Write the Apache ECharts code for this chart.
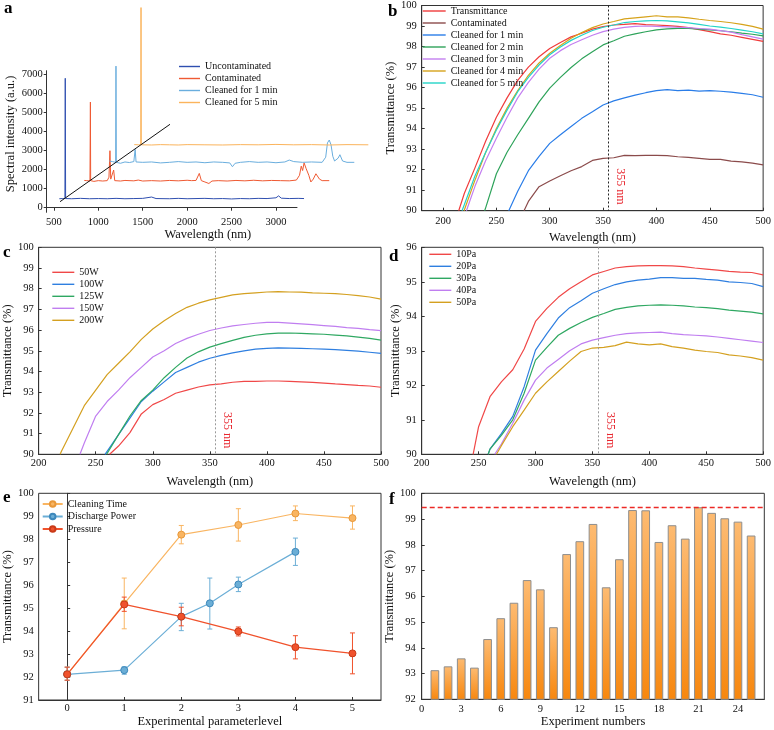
<!DOCTYPE html>
<html>
<head>
<meta charset="utf-8">
<script src="https://cdn.jsdelivr.net/npm/echarts@6.0.0/dist/echarts.min.js"></script>
<style>
  html, body { margin: 0; padding: 0; background: #fff; }
  #chart { width: 774px; height: 730px; }
</style>
</head>
<body>
<div id="chart"></div>
<script>
// ---- panel a: waterfall spectra [wavelength, intensity] ----
const aUncontaminated = [[561,470],[600,480],[624,480],[628,6790],[632,480],[700,470],[800,490],[900,470],[1000,480],[1100,470],[1200,490],[1300,470],[1400,480],[1500,490],[1600,560],[1650,480],[1800,470],[1900,490],[2000,470],[2100,480],[2200,490],[2300,470],[2400,480],[2500,460],[2600,480],[2700,470],[2800,490],[2900,480],[3000,520],[3030,620],[3060,500],[3150,480],[3250,490],[3316,480]];
const aContaminated = [[842,1430],[870,1420],[906,1400],[909,1420],[911,5545],[914,1420],[950,1380],[1000,1420],[1050,1400],[1100,1420],[1120,1600],[1131,2990],[1140,1500],[1155,1420],[1173,1978],[1185,1420],[1250,1400],[1300,1430],[1400,1410],[1450,1450],[1500,1400],[1600,1420],[1700,1400],[1800,1430],[1900,1410],[2000,1440],[2050,1420],[2100,1430],[2137,1800],[2160,1420],[2200,1350],[2245,1270],[2280,1400],[2350,1420],[2450,1400],[2550,1430],[2650,1410],[2750,1440],[2850,1410],[2950,1430],[3050,1420],[3150,1410],[3230,1450],[3265,1700],[3285,2180],[3300,1950],[3317,2350],[3340,2050],[3370,1700],[3393,1350],[3420,1500],[3450,1780],[3467,1820],[3490,1500],[3520,1420],[3600,1420]];
const aCleaned1 = [[1124,2450],[1140,2350],[1160,2420],[1195,2380],[1199,7430],[1203,2380],[1250,2330],[1300,2400],[1350,2370],[1400,2420],[1415,3060],[1425,2400],[1500,2380],[1600,2400],[1700,2350],[1800,2380],[1900,2420],[2000,2380],[2100,2400],[2200,2360],[2300,2400],[2400,2380],[2480,2350],[2510,2150],[2540,2330],[2600,2380],[2700,2420],[2800,2380],[2900,2400],[3000,2360],[3100,2400],[3150,2500],[3200,2420],[3300,2380],[3400,2400],[3520,2380],[3560,2650],[3580,3400],[3600,3550],[3620,3300],[3640,2700],[3660,2450],[3700,2600],[3720,2780],[3750,2450],[3800,2380],[3882,2380]];
const aCleaned5 = [[1405,3310],[1450,3300],[1478,3300],[1481,10500],[1484,3300],[1600,3290],[1700,3310],[1800,3300],[1900,3290],[2000,3310],[2200,3300],[2400,3290],[2600,3310],[2800,3300],[3000,3320],[3200,3300],[3400,3310],[3600,3290],[3800,3310],[4040,3300]];
const aGuide = [[569,315],[1807,4376]];

// ---- panel b ----
const wlB = [220,230,240,250,260,270,280,290,300,310,320,330,340,350,360,370,380,390,400,410,420,430,440,450,460,470,480,490,500];
const bStart = [214.7, 275.9, 261.6, 239, 221.9, 219.7, 217.8];
const bTransmittance = [90.85,92.1,93.4,94.55,95.5,96.35,97.0,97.5,97.9,98.2,98.47,98.65,98.85,98.97,99.05,99.08,99.12,99.07,99.05,99.02,98.98,98.92,98.82,98.73,98.62,98.55,98.45,98.35,98.25];
const bContaminated = [null,null,null,null,null,null,90.45,91.17,91.45,91.7,91.95,92.15,92.45,92.55,92.58,92.7,92.68,92.7,92.7,92.68,92.63,92.6,92.55,92.5,92.5,92.42,92.38,92.32,92.23];
const bClean1 = [null,null,null,null,null,90.95,91.95,92.65,93.28,93.7,94.1,94.5,94.82,95.15,95.35,95.5,95.63,95.75,95.85,95.9,95.85,95.88,95.83,95.85,95.82,95.78,95.72,95.65,95.53];
const bClean2 = [null,null,90.15,91.8,92.85,93.7,94.5,95.3,95.97,96.5,96.98,97.4,97.75,98.08,98.28,98.5,98.62,98.72,98.81,98.86,98.89,98.88,98.85,98.81,98.77,98.72,98.65,98.6,98.52];
const bClean3 = [null,91.2,92.45,93.53,94.55,95.5,96.25,96.9,97.43,97.8,98.1,98.33,98.55,98.73,98.85,98.93,98.98,99.0,98.98,98.96,98.94,98.92,98.88,98.85,98.78,98.7,98.58,98.47,98.36];
const bClean4 = [90.05,91.5,92.85,94.0,95.0,95.85,96.6,97.2,97.67,98.05,98.4,98.68,98.92,99.1,99.22,99.35,99.4,99.45,99.5,99.45,99.45,99.4,99.33,99.27,99.22,99.16,99.08,98.98,98.85];
const bClean5 = [90.3,91.7,92.85,93.93,94.9,95.8,96.5,97.1,97.6,97.98,98.3,98.55,98.78,98.94,99.05,99.17,99.22,99.25,99.27,99.25,99.2,99.15,99.08,99.0,98.95,98.88,98.8,98.72,98.62];

// ---- panel c ----
const wlC = [220,230,240,250,260,270,280,290,300,310,320,330,340,350,360,370,380,390,400,410,420,430,440,450,460,470,480,490,500];
const cStart = [262.2, 258.2, 259.6, 236.2, 218.8];
const c50W = [null,null,null,null,null,90.4,91.05,91.95,92.4,92.65,92.95,93.1,93.25,93.35,93.4,93.48,93.52,93.52,93.54,93.54,93.52,93.5,93.47,93.44,93.4,93.37,93.33,93.3,93.24];
const c100W = [null,null,null,null,null,90.95,91.75,92.55,93.05,93.5,93.95,94.2,94.45,94.64,94.78,94.9,95.0,95.08,95.12,95.14,95.13,95.12,95.1,95.08,95.06,95.02,94.98,94.93,94.88];
const c125W = [null,null,null,null,null,90.95,91.85,92.6,93.1,93.7,94.2,94.65,94.95,95.18,95.35,95.5,95.65,95.75,95.82,95.85,95.86,95.84,95.82,95.8,95.76,95.72,95.66,95.6,95.52];
const c150W = [null,null,90.55,91.85,92.55,93.1,93.7,94.2,94.7,95.0,95.35,95.6,95.8,95.98,96.1,96.2,96.27,96.33,96.37,96.37,96.34,96.3,96.26,96.22,96.18,96.12,96.08,96.02,95.97];
const c200W = [90.15,91.25,92.35,93.1,93.85,94.4,94.95,95.55,96.05,96.45,96.8,97.1,97.3,97.46,97.58,97.7,97.76,97.8,97.84,97.86,97.84,97.83,97.8,97.78,97.76,97.72,97.67,97.6,97.5];

// ---- panel d ----
const wlD = [250,260,270,280,290,300,310,320,330,340,350,360,370,380,390,400,410,420,430,440,450,460,470,480,490,500];
const dStart = [245.2, 258.4, 258.4, 264.2, 265.7];
const d10Pa = [90.8,91.67,92.1,92.45,93.05,93.85,94.23,94.55,94.8,95.0,95.2,95.3,95.4,95.44,95.46,95.47,95.47,95.46,95.44,95.4,95.37,95.34,95.3,95.28,95.27,95.2];
const d20Pa = [null,90.15,90.6,91.1,91.96,93.02,93.5,93.95,94.25,94.45,94.67,94.8,94.92,95.0,95.05,95.08,95.12,95.12,95.1,95.1,95.07,95.05,95.0,94.98,94.95,94.86];
const d30Pa = [null,90.15,90.55,91.0,91.77,92.73,93.1,93.45,93.65,93.82,93.97,94.08,94.2,94.26,94.3,94.32,94.33,94.32,94.3,94.27,94.25,94.22,94.18,94.15,94.12,94.07];
const d40Pa = [null,null,90.3,90.9,91.57,92.15,92.5,92.75,93.0,93.2,93.31,93.38,93.45,93.5,93.52,93.53,93.54,93.5,93.47,93.45,93.43,93.4,93.36,93.32,93.28,93.24];
const d50Pa = [null,null,90.25,90.8,91.28,91.77,92.1,92.4,92.7,92.98,93.08,93.1,93.15,93.25,93.2,93.17,93.2,93.12,93.08,93.02,92.98,92.95,92.88,92.85,92.8,92.73];

// ---- panel e ----
const ctX = [0,1,2,3,4,5];
const ctY = [92.12,95.2,98.2,98.62,99.12,98.92];
const ctLo = [91.86,94.1,97.8,97.92,98.81,98.44];
const ctHi = [92.43,96.31,98.6,99.33,99.45,99.45];
const dpX = [0,1,2,2.5,3,4];
const dpY = [92.12,92.3,94.63,95.21,96.03,97.45];
const dpLo = [91.86,92.12,94.02,94.09,95.72,96.86];
const dpHi = [92.43,92.45,95.21,96.31,96.35,98.05];
const prX = [0,1,2,3,4,5];
const prY = [92.12,95.16,94.63,93.99,93.3,93.03];
const prLo = [91.86,94.86,94.23,93.79,92.79,92.14];
const prHi = [92.43,95.48,95.04,94.18,93.8,93.92];

// ---- panel f ----
const expNo = [1,2,3,4,5,6,7,8,9,10,11,12,13,14,15,16,17,18,19,20,21,22,23,24,25];
const expT = [93.13,93.28,93.59,93.23,94.34,95.15,95.75,96.63,96.27,94.8,97.64,98.14,98.81,96.35,97.44,99.35,99.34,98.11,98.76,98.24,99.46,99.24,99.03,98.9,98.36];
const bestT = 99.45;

// tick labels
const aXTicks = [500,1000,1500,2000,2500,3000];
const aYTicks = [0,1000,2000,3000,4000,5000,6000,7000];
const wlTicksB = [200,250,300,350,400,450,500];
const eXTicks = [0,1,2,3,4,5];
const fXTicks = [0,3,6,9,12,15,18,21,24];

const FONT = "'Liberation Serif', 'Times New Roman', serif";
const AX = '#333';

function curve(grid, start, vals) {
  const out = [[start, 90]];
  grid.forEach((x, i) => { if (vals[i] != null && x > start) out.push([x, vals[i]]); });
  return out;
}
function zip(xs, ys) { return xs.map((x, i) => [x, ys[i]]); }
const plain = v => String(v);

function xAx(gi, o) {
  return Object.assign({
    type: 'value', gridIndex: gi, nameLocation: 'middle',
    nameTextStyle: { fontFamily: FONT, fontSize: 12.5, color: '#111' },
    axisLine: { show: true, lineStyle: { color: AX, width: 1 } },
    axisTick: { show: true, inside: true, length: 3, lineStyle: { color: AX } },
    axisLabel: { fontFamily: FONT, fontSize: 10.5, color: '#111', margin: 4, formatter: plain },
    splitLine: { show: false }
  }, o);
}
function yAx(gi, o) {
  return Object.assign({
    type: 'value', gridIndex: gi, nameLocation: 'middle', nameRotate: 90,
    nameTextStyle: { fontFamily: FONT, fontSize: 12.5, color: '#111' },
    axisLine: { show: true, lineStyle: { color: AX, width: 1 } },
    axisTick: { show: true, inside: true, length: 3, lineStyle: { color: AX } },
    axisLabel: { fontFamily: FONT, fontSize: 10.5, color: '#111', margin: 5, formatter: plain },
    splitLine: { show: false }
  }, o);
}
function lineS(name, xi, color, data, z) {
  return { name: name, type: 'line', xAxisIndex: xi, yAxisIndex: xi, data: data,
    symbol: 'none', lineStyle: { color: color, width: 1.2 }, itemStyle: { color: color },
    z: z || 2, animation: false };
}
function errS(xi, color, xs, lo, hi) {
  return {
    type: 'custom', xAxisIndex: xi, yAxisIndex: xi, z: 3,
    data: xs.map((x, i) => [x, lo[i], hi[i]]),
    renderItem: function (params, api) {
      const a = api.coord([api.value(0), api.value(1)]);
      const b = api.coord([api.value(0), api.value(2)]);
      const w = 2.5, st = { stroke: color, lineWidth: 1 };
      return { type: 'group', children: [
        { type: 'line', shape: { x1: a[0], y1: a[1], x2: b[0], y2: b[1] }, style: st },
        { type: 'line', shape: { x1: a[0] - w, y1: a[1], x2: a[0] + w, y2: a[1] }, style: st },
        { type: 'line', shape: { x1: b[0] - w, y1: b[1], x2: b[0] + w, y2: b[1] }, style: st }
      ] };
    }
  };
}
function legendAt(left, top, names, w, withSymbol) {
  const lg = {
    left: left, top: top, orient: 'vertical', data: names, selectedMode: false,
    itemWidth: w, itemHeight: withSymbol ? 7 : 1.4, itemGap: withSymbol ? 0.5 : 0, padding: 0,
    formatter: n => n.split('|')[0],
    textStyle: { fontFamily: FONT, fontSize: 10, color: '#111', lineHeight: 12 }
  };
  if (!withSymbol) lg.icon = 'rect';
  return lg;
}
function marker355(color, dash, top, bottom) {
  return {
    silent: true, symbol: 'none', animation: false,
    lineStyle: { color: color, type: dash, width: 1 },
    label: { show: true, formatter: '355 nm', position: 'insideEndTop', distance: 6,
      color: '#e8262e', fontFamily: FONT, fontSize: 12 },
    data: [[{ coord: [355, top] }, { coord: [355, bottom] }]]
  };
}

const chart = echarts.init(document.getElementById('chart'), null, { renderer: 'canvas' });

const bNames = ['Transmittance|b', 'Contaminated|b', 'Cleaned for 1 min|b', 'Cleaned for 2 min|b', 'Cleaned for 3 min|b', 'Cleaned for 4 min|b', 'Cleaned for 5 min|b'];
const bColors = ['#f03c3c', '#8b4b4b', '#2a7de8', '#2ea35a', '#c37ff0', '#d6a21a', '#23d4c8'];
const bVals = [bTransmittance, bContaminated, bClean1, bClean2, bClean3, bClean4, bClean5];
const cNames = ['50W', '100W', '125W', '150W', '200W'];
const dNames = ['10Pa', '20Pa', '30Pa', '40Pa', '50Pa'];
const cdColors = ['#f04848', '#2f7fe0', '#2fa862', '#c07ef0', '#d4a020'];
const cVals = [c50W, c100W, c125W, c150W, c200W];
const dVals = [d10Pa, d20Pa, d30Pa, d40Pa, d50Pa];

// panel a: visible axes live on grid 0; the spectra sit on grid 6, which has the same
// scale but runs further right so the offset traces can pass the end of the axis
const A_MIN = 419, A_PX = 2818 / 250.3, A_W = 330;
const series = [];
[['Uncontaminated', '#2f4fb0', aUncontaminated], ['Contaminated', '#ef5a33', aContaminated],
 ['Cleaned for 1 min', '#6aaede', aCleaned1], ['Cleaned for 5 min', '#fbb45c', aCleaned5]].forEach(s => {
  const o = lineS(s[0], 6, s[1], s[2]); o.clip = false; o.lineStyle.width = 1; series.push(o);
});
series.push({ type: 'line', xAxisIndex: 6, yAxisIndex: 6, data: aGuide, symbol: 'none', clip: false,
  lineStyle: { color: '#111', width: 1 }, silent: true, animation: false });
// b
bNames.forEach((n, i) => {
  const o = lineS(n, 1, bColors[i], curve(wlB, bStart[i], bVals[i]));
  if (i === 0) o.markLine = marker355('#222', [2, 2], 100, 90);
  series.push(o);
});
// c
cNames.forEach((n, i) => {
  const o = lineS(n, 2, cdColors[i], curve(wlC, cStart[i], cVals[i]));
  if (i === 0) o.markLine = marker355('#999', [2, 2], 100, 90);
  series.push(o);
});
// d
dNames.forEach((n, i) => {
  const o = lineS(n, 3, cdColors[i], curve(wlD, dStart[i], dVals[i]));
  if (i === 0) o.markLine = marker355('#999', [2, 2], 96, 90);
  series.push(o);
});
// e
[['Cleaning Time', '#f9b562', '#e8983a', ctX, ctY, ctLo, ctHi],
 ['Discharge Power', '#6baed6', '#3d88bb', dpX, dpY, dpLo, dpHi],
 ['Pressure', '#f0522c', '#c93a18', prX, prY, prLo, prHi]].forEach((s, k) => {
  series.push(errS(4, s[1], s[3], s[5], s[6]));
  series.push({ name: s[0], type: 'line', xAxisIndex: 4, yAxisIndex: 4, data: zip(s[3], s[4]),
    symbol: 'circle', symbolSize: 7, z: 4 + k, animation: false,
    lineStyle: { color: s[1], width: 1.2 },
    itemStyle: { color: s[1], borderColor: s[2], borderWidth: 1 } });
});
// f
series.push({
  type: 'bar', xAxisIndex: 5, yAxisIndex: 5, data: zip(expNo, expT), barWidth: 8.7, animation: false,
  itemStyle: {
    color: new echarts.graphic.LinearGradient(0, 0, 0, 1, [
      { offset: 0, color: '#fdbb72' }, { offset: 1, color: '#f7870e' }]),
    borderColor: '#8e8e8e', borderWidth: 1
  }
});
series.push({ type: 'line', xAxisIndex: 5, yAxisIndex: 5, data: [[0, bestT], [26, bestT]],
  symbol: 'none', silent: true, z: 5, animation: false,
  lineStyle: { color: '#ec2a26', type: [5, 3], width: 1.5 } });

const letterStyle = { fontFamily: FONT, fontSize: 17, fontWeight: 'bold', color: '#000' };
const option = {
  backgroundColor: '#fff',
  animation: false,
  title: [['a', 4, 0], ['b', 388, 3], ['c', 3, 244], ['d', 389, 248], ['e', 3, 489], ['f', 389, 491]]
    .map(t => ({ text: t[0], left: t[1], top: t[2], padding: 0, textStyle: letterStyle })),
  legend: [
    legendAt(179, 60.5, ['Uncontaminated', 'Contaminated', 'Cleaned for 1 min', 'Cleaned for 5 min'], 21),
    legendAt(422.7, 5, bNames, 23),
    legendAt(52.3, 266.3, cNames, 22),
    legendAt(429.3, 248.3, dNames, 22),
    legendAt(41.7, 498, ['Cleaning Time', 'Discharge Power', 'Pressure'], 20, true)
  ],
  grid: [
    { left: 46.7, top: 70.7, width: 250.3, height: 141.6 },
    { left: 421.7, top: 5, width: 342.6, height: 205.7, show: true, borderColor: AX, borderWidth: 1 },
    { left: 35.7, top: 247.3, width: 345.3, height: 207, show: true, borderColor: AX, borderWidth: 1 },
    { left: 421.7, top: 247.3, width: 342.6, height: 207, show: true, borderColor: AX, borderWidth: 1 },
    { left: 35.7, top: 493.3, width: 345.3, height: 206.7, show: true, borderColor: AX, borderWidth: 1 },
    { left: 421.7, top: 493.3, width: 342.6, height: 206, show: true, borderColor: AX, borderWidth: 1 },
    { left: 46.7, top: 70.7, width: A_W, height: 141.6 }
  ],
  xAxis: [
    xAx(0, { min: A_MIN, max: A_MIN + 250.3 * A_PX, name: 'Wavelength (nm)', nameGap: 15,
      nameTextStyle: { fontFamily: FONT, fontSize: 12.5, color: '#111', padding: [0, 0, 0, 72] },
      axisTick: { inside: false, length: 3, lineStyle: { color: AX }, customValues: aXTicks },
      axisLabel: { fontFamily: FONT, fontSize: 10.5, color: '#111', margin: 4, formatter: plain, customValues: aXTicks } }),
    xAx(1, { min: 180, max: 500, name: 'Wavelength (nm)', nameGap: 21,
      axisTick: { inside: true, length: 3, lineStyle: { color: AX }, customValues: wlTicksB },
      axisLabel: { fontFamily: FONT, fontSize: 10.5, color: '#111', margin: 5, formatter: plain, customValues: wlTicksB } }),
    xAx(2, { min: 200, max: 500, interval: 50, name: 'Wavelength (nm)', nameGap: 21,
      axisLabel: { fontFamily: FONT, fontSize: 10.5, color: '#111', margin: 3, formatter: plain } }),
    xAx(3, { min: 200, max: 500, interval: 50, name: 'Wavelength (nm)', nameGap: 21,
      axisLabel: { fontFamily: FONT, fontSize: 10.5, color: '#111', margin: 3, formatter: plain } }),
    xAx(4, { min: -0.5, max: 5.5, name: 'Experimental parameterlevel', nameGap: 14,
      axisTick: { inside: true, length: 3, lineStyle: { color: AX }, customValues: eXTicks },
      axisLabel: { fontFamily: FONT, fontSize: 10.5, color: '#111', margin: 3, formatter: plain, customValues: eXTicks } }),
    xAx(5, { min: 0, max: 26, name: 'Experiment numbers', nameGap: 14,
      axisTick: { inside: true, length: 3, lineStyle: { color: AX }, customValues: fXTicks },
      axisLabel: { fontFamily: FONT, fontSize: 10.5, color: '#111', margin: 4, formatter: plain, customValues: fXTicks } }),
    { type: 'value', gridIndex: 6, min: A_MIN, max: A_MIN + A_W * A_PX, show: false }
  ],
  yAxis: [
    yAx(0, { min: -241, max: 7188, name: 'Spectral intensity (a.u.)', nameGap: 29,
      nameTextStyle: { fontFamily: FONT, fontSize: 12.5, color: '#111', padding: [0, 0, 0, 15] },
      axisTick: { inside: false, length: 3, lineStyle: { color: AX }, customValues: aYTicks },
      axisLabel: { fontFamily: FONT, fontSize: 10.5, color: '#111', margin: 4, formatter: plain, customValues: aYTicks } }),
    yAx(1, { min: 90, max: 100, interval: 1, name: 'Transmittance (%)', nameGap: 23 }),
    yAx(2, { min: 90, max: 100, interval: 1, name: 'Transmittance (%)', nameGap: 22 }),
    yAx(3, { min: 90, max: 96, interval: 1, name: 'Transmittance (%)', nameGap: 18 }),
    yAx(4, { min: 91, max: 100, interval: 1, name: 'Transmittance (%)', nameGap: 18 }),
    yAx(5, { min: 92, max: 100, interval: 1, name: 'Transmittance (%)', nameGap: 20,
      axisLabel: { fontFamily: FONT, fontSize: 10.5, color: '#111', margin: 6, formatter: plain } }),
    { type: 'value', gridIndex: 6, min: -241, max: 7188, show: false }
  ],
  series: series
};
chart.setOption(option);
</script>
</body>
</html>
